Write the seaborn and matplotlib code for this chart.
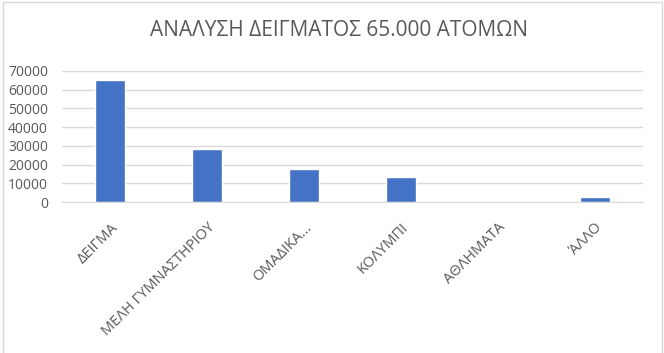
import matplotlib
matplotlib.use("Agg")
import matplotlib.pyplot as plt
import seaborn as sns
import pandas as pd
from matplotlib.lines import Line2D

categories = ["ΔΕΙΓΜΑ", "ΜΕΛΗ ΓΥΜΝΑΣΤΗΡΙΟΥ", "ΟΜΑΔΙΚΑ...", "ΚΟΛΥΜΠΙ", "ΑΘΛΗΜΑΤΑ", "ΆΛΛΟ"]
values = [65000, 28200, 17800, 13200, 0, 2700]
yticks = [0, 10000, 20000, 30000, 40000, 50000, 60000, 70000]
title = "ΑΝΑΛΥΣΗ ΔΕΙΓΜΑΤΟΣ 65.000 ΑΤΟΜΩΝ"

sns.set_style("white")
plt.rcParams['font.family'] = ['Open Sans', 'DejaVu Sans']

df = pd.DataFrame({"cat": categories, "val": values})

fig = plt.figure(figsize=(6.64, 3.53), dpi=100)
ax = fig.add_axes([62/664, 1-202/353, (643-62)/664, (202-71)/353])
sns.barplot(data=df, x="cat", y="val", color="#4472C4", width=0.31, ax=ax, saturation=1)

ax.set_ylim(0, 70000)
ax.set_yticks(yticks)
ax.set_yticklabels([str(t) for t in yticks], fontsize=10, color="#595959")
ax.yaxis.grid(True, color="#d9d9d9", linewidth=1)
ax.set_axisbelow(True)
for s in ["top", "right", "left"]:
    ax.spines[s].set_visible(False)
ax.spines["bottom"].set_color("#d9d9d9")
ax.tick_params(axis="y", length=0, pad=10)
ax.set_xlabel("")
ax.set_ylabel("")
ax.set_xticks(range(len(categories)))
ax.set_xticklabels(categories, rotation=45, ha="right", va="top", rotation_mode="anchor",
                   fontsize=10.5, color="#595959")
ax.tick_params(axis="x", length=0, pad=13)
ax.set_xlim(-0.5, len(categories) - 0.5)

fig.text(0.511, 1-30/353, title, ha="center", va="center", fontsize=15, color="#595959")

# chart frame
for xs, ys in [([3/664, 3/664], [0, 1-2/353]), ([3/664, 662/664], [1-2/353, 1-2/353]),
               ([662/664, 662/664], [0, 1-2/353])]:
    fig.add_artist(Line2D(xs, ys, color="#d9d9d9", linewidth=1, transform=fig.transFigure))

fig.savefig("out.png", dpi=100)
